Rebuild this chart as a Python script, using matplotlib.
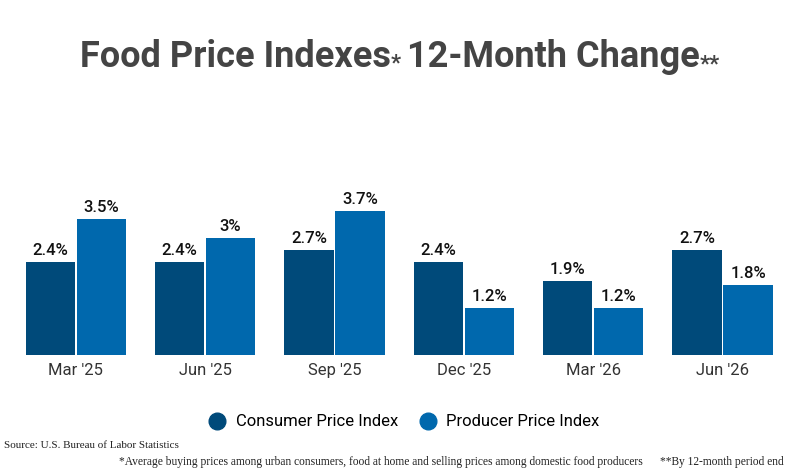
import numpy as np
import matplotlib
matplotlib.use("Agg")
import matplotlib.pyplot as plt
from matplotlib.lines import Line2D

periods = ["Mar '25", "Jun '25", "Sep '25", "Dec '25", "Mar '26", "Jun '26"]
cpi = [2.4, 2.4, 2.7, 2.4, 1.9, 2.7]
ppi = [3.5, 3.0, 3.7, 1.2, 1.2, 1.8]
cpi_lbl = ["2.4%", "2.4%", "2.7%", "2.4%", "1.9%", "2.7%"]
ppi_lbl = ["3.5%", "3%", "3.7%", "1.2%", "1.2%", "1.8%"]

dark = "#004a7a"
light = "#0068ad"
plt.rcParams['font.family'] = ['Roboto', 'DejaVu Sans']

fig = plt.figure(figsize=(8, 4.75), dpi=100)
ax = fig.add_axes([0.014, 0.2526, 0.97, 0.4526])
x = np.arange(len(periods))
w = 0.38
off = 0.197
b1 = ax.bar(x - off, cpi, w, color=dark)
b2 = ax.bar(x + off, ppi, w, color=light)
for bars, labs in ((b1, cpi_lbl), (b2, ppi_lbl)):
    for b, t in zip(bars, labs):
        ax.text(b.get_x() + b.get_width() / 2, b.get_height() + 0.1, t,
                ha='center', va='bottom', fontsize=12, fontweight='medium', color='#111')
ax.set_xlim(-0.5, 5.5)
ax.set_ylim(0, 5.53)
ax.set_xticks(x)
ax.set_xticklabels(periods, fontsize=12, color='#333')
ax.tick_params(axis='x', length=0, pad=6)
ax.set_yticks([])
for s in ax.spines.values():
    s.set_visible(False)

# title built from pieces so the asterisks are smaller
fig.canvas.draw()
r = fig.canvas.get_renderer()
parts = [("Food Price Indexes", 26, 0), ("* ", 16, -3), ("12-Month Change", 26, 0), ("**", 16, -3)]
texts = []
for s, fs, dy in parts:
    t = fig.text(0, 0, s, fontsize=fs, fontweight='bold', color='#444', va='baseline')
    texts.append((t, dy))
total = sum(t.get_window_extent(r).width for t, _ in texts)
xpos = (800 - total) / 2
for t, dy in texts:
    t.set_position((xpos / 800, (475 - 67 + dy) / 475))
    xpos += t.get_window_extent(r).width

handles = [Line2D([], [], marker='o', ls='', color=dark, markersize=12),
           Line2D([], [], marker='o', ls='', color=light, markersize=12)]
fig.legend(handles, ["Consumer Price Index", "Producer Price Index"],
           loc='center', bbox_to_anchor=(0.5, 1 - 422 / 475), ncol=2, frameon=False,
           fontsize=12, handletextpad=0.1, columnspacing=0.8)

fig.text(0.005, 1 - 446 / 475, "Source: U.S. Bureau of Labor Statistics", fontsize=8,
         family='Liberation Serif', va='center', color='#222')
fig.text(0.98, 1 - 462 / 475,
         "*Average buying prices among urban consumers, food at home and selling prices among domestic food producers      **By 12-month period end",
         fontsize=8.3, family='Liberation Serif', va='center', ha='right', color='#222')

fig.savefig("out.png", dpi=100)
